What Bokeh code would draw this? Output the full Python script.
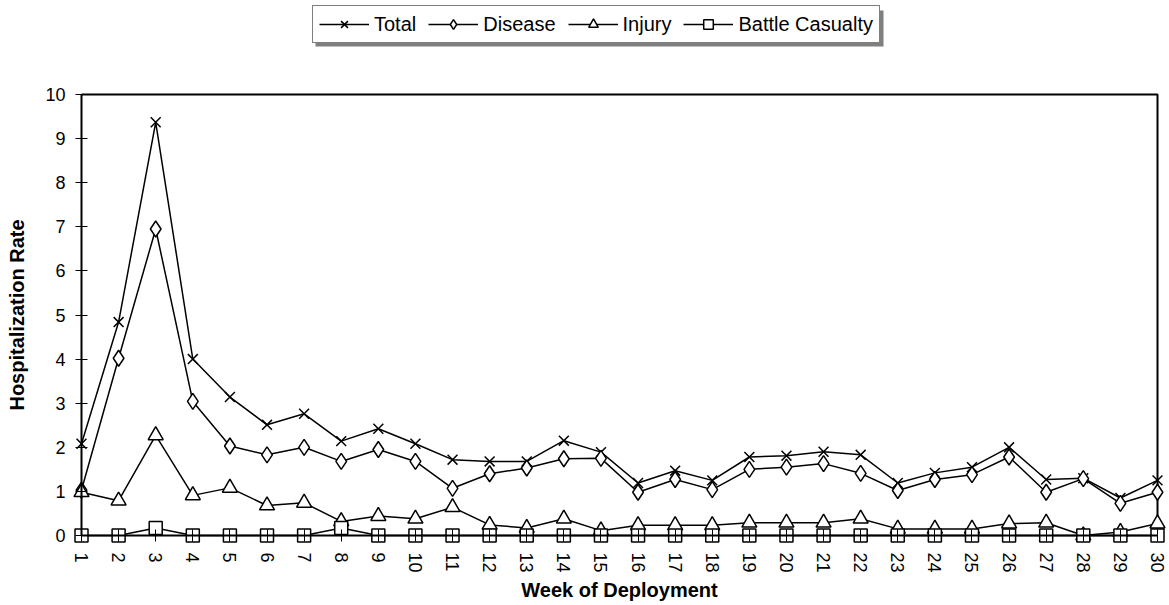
from bokeh.plotting import figure
from bokeh.models import Range1d, FixedTicker, Legend, LegendItem, BoxAnnotation
from bokeh.embed import file_html
from bokeh.resources import INLINE

weeks = list(range(1, 31))
week_labels = [str(w) for w in weeks]
total = [2.08, 4.84, 9.37, 4.00, 3.14, 2.51, 2.76, 2.14, 2.42, 2.08,
         1.72, 1.68, 1.68, 2.15, 1.89, 1.19, 1.47, 1.25, 1.78, 1.81,
         1.90, 1.83, 1.19, 1.42, 1.55, 2.00, 1.27, 1.30, 0.85, 1.25]
disease = [1.03, 4.02, 6.95, 3.04, 2.03, 1.83, 2.00, 1.68, 1.95, 1.68,
           1.07, 1.40, 1.53, 1.74, 1.75, 0.98, 1.27, 1.04, 1.50, 1.55,
           1.63, 1.41, 1.02, 1.27, 1.38, 1.78, 0.98, 1.29, 0.73, 0.98]
injury = [0.98, 0.79, 2.27, 0.91, 1.08, 0.68, 0.74, 0.32, 0.44, 0.38,
          0.64, 0.24, 0.17, 0.38, 0.11, 0.23, 0.23, 0.23, 0.29, 0.29,
          0.29, 0.38, 0.15, 0.15, 0.15, 0.27, 0.29, 0.00, 0.08, 0.27]
battle = [0, 0, 0.17, 0, 0, 0, 0, 0.17, 0, 0,
          0, 0, 0, 0, 0, 0, 0, 0, 0, 0,
          0, 0, 0, 0, 0, 0, 0, 0, 0, 0]
series_names = ["Total", "Disease", "Injury", "Battle Casualty"]
y_ticks = list(range(0, 11))

FONT = "Liberation Sans"

W, H = 1169, 605
# pixel targets of the plot box corners
PX_LEFT, PX_RIGHT = 81, 1157
PX_TOP, PX_BOTTOM = 94, 535
xs = (PX_RIGHT - PX_LEFT) / (weeks[-1] - weeks[0])
ys = (PX_BOTTOM - PX_TOP) / (y_ticks[-1] - y_ticks[0])
x0 = weeks[0] - PX_LEFT / xs
x1 = weeks[-1] + (W - PX_RIGHT) / xs
y0 = y_ticks[0] - (H - PX_BOTTOM) / ys
y1 = y_ticks[-1] + PX_TOP / ys

p = figure(width=W, height=H, output_backend="svg", toolbar_location=None,
           x_range=Range1d(x0, x1), y_range=Range1d(y0, y1),
           min_border_left=0, min_border_right=0, min_border_top=0,
           min_border_bottom=0)

p.xgrid.visible = False
p.ygrid.visible = False
p.outline_line_color = None
p.background_fill_color = "white"
p.border_fill_color = "white"

p.xaxis.ticker = FixedTicker(ticks=weeks)
p.xaxis.major_label_overrides = {w: l for w, l in zip(weeks, week_labels)}
p.yaxis.ticker = FixedTicker(ticks=y_ticks)
p.xaxis.fixed_location = y_ticks[0]
p.yaxis.fixed_location = weeks[0]
p.xaxis.bounds = (weeks[0], weeks[-1])
p.yaxis.bounds = (y_ticks[0], y_ticks[-1])
for ax in (p.xaxis, p.yaxis):
    ax.minor_tick_line_color = None
    ax.axis_line_color = "black"
    ax.axis_line_width = 2
    ax.major_tick_line_color = "black"
    ax.major_tick_line_width = 1
    ax.major_tick_in = 6
    ax.major_tick_out = 6
    ax.major_label_text_font = FONT
    ax.major_label_text_font_size = "18px"
    ax.major_label_text_color = "black"
    ax.axis_label_text_font = FONT
    ax.axis_label_text_font_style = "bold"
    ax.axis_label_text_font_size = "20px"
    ax.axis_label_text_color = "black"

p.xaxis.major_label_orientation = "vertical"
p.xaxis.major_label_standoff = 11
p.xaxis.axis_label = "Week of Deployment"
p.xaxis.axis_label_standoff = 3
p.yaxis.major_label_standoff = 10
p.yaxis.axis_label = "Hospitalization Rate"
p.yaxis.axis_label_standoff = 14

# top and right border of the plot box
p.line([weeks[0], weeks[-1], weeks[-1]], [y_ticks[-1], y_ticks[-1], y_ticks[0]],
       line_color="black", line_width=2)

data = [total, disease, injury, battle]
markers = ["x", "diamond", "triangle", "square"]
sizes = [14, 16, 15, 13]
items = []
for name, vals, mk, sz in zip(series_names, data, markers, sizes):
    ln = p.line(weeks, vals, line_color="black", line_width=1.5)
    sc = p.scatter(weeks, vals, marker=mk, size=sz, line_color="black",
                   line_width=1.5, fill_color="white")
    items.append(LegendItem(label=name, renderers=[ln, sc]))

# legend drop shadow (screen units, measured from the bottom of the frame)
LEG_LEFT, LEG_BOTTOM = 312, H - 43
shadow = BoxAnnotation(left=LEG_LEFT + 3, right=LEG_LEFT + 571,
                       bottom=LEG_BOTTOM - 3, top=LEG_BOTTOM + 33,
                       left_units="screen", right_units="screen",
                       bottom_units="screen", top_units="screen",
                       fill_color="#7f7f7f", fill_alpha=1, line_color=None)
p.add_layout(shadow)

legend = Legend(items=items, orientation="horizontal", location=(LEG_LEFT, LEG_BOTTOM),
                border_line_color="black", border_line_width=1.5,
                background_fill_color="white", background_fill_alpha=1,
                padding=6, spacing=12, glyph_width=50, glyph_height=24,
                label_standoff=5, margin=0,
                label_text_font=FONT, label_text_font_size="20px",
                label_text_color="black")
p.add_layout(legend, "center")

open("out.html", "w").write(file_html(p, INLINE))
